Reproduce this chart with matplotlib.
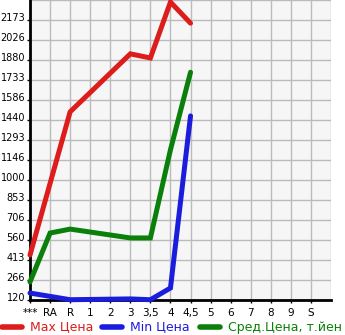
import matplotlib
matplotlib.use("Agg")
import matplotlib.pyplot as plt
import matplotlib.transforms as mtransforms
from matplotlib.lines import Line2D
import numpy as np

categories = ["***", "RA", "R", "1", "2", "3", "3,5", "4", "4,5", "5", "6", "7", "8", "9", "S"]
max_price = [450, None, 1500, None, None, 1925, 1895, 2305, 2150, None, None, None, None, None, None]
min_price = [171, None, 122, None, None, 128, 122, 208, 1470, None, None, None, None, None, None]
avg_price = [252, 611, 640, None, None, 575, 575, 1222, 1790, None, None, None, None, None, None]
ytick_labels = ["120", "266", "413", "560", "706", "853", "1000", "1146", "1293",
                "1440", "1586", "1733", "1880", "2026", "2173"]
legend_labels = ["Max Цена", "Min Цена", "Сред.Цена, т.йен"]

colors = ["#dd1c1c", "#1c1cdd", "#0a800a"]

fig = plt.figure(figsize=(3.45, 3.35), dpi=100)
ax = fig.add_axes([30 / 345, 1 - 300 / 335, 301 / 345, 300 / 335])
ax.set_facecolor("#f6f6f6")

ymin, ymax = 120, 2320
step = (ymax - ymin) / 15
yticks = [ymin + i * step for i in range(len(ytick_labels))]

ax.set_xlim(0, 15)
ax.set_ylim(ymin, ymax)
ax.set_xticks(range(len(categories)))
ax.set_xticklabels(categories)
ax.set_yticks(yticks)
ax.set_yticklabels(ytick_labels)

for xv in range(0, 16):
    ax.axvline(xv, color="#bbbbbb", lw=1.0, zorder=0)
for i in range(0, 16):
    ax.axhline(ymin + i * step, color="#bbbbbb", lw=1.0, zorder=0)

for s in ["top", "right"]:
    ax.spines[s].set_visible(False)
for s in ["left", "bottom"]:
    ax.spines[s].set_linewidth(2)
    ax.spines[s].set_color("black")

ax.tick_params(axis="both", length=2.5, width=1, labelsize=7.5, colors="black")
ax.tick_params(axis="y", labelsize=7, pad=1)
ax.tick_params(axis="x", pad=3)

offset = mtransforms.ScaledTranslation(0, 3 / 100, fig.dpi_scale_trans)
for lbl in ax.get_yticklabels():
    lbl.set_transform(lbl.get_transform() + offset)

for series, c in zip([max_price, min_price, avg_price], colors):
    xs = [i for i, v in enumerate(series) if v is not None]
    ys = [v for v in series if v is not None]
    ax.plot(xs, ys, color=c, lw=3.6, solid_capstyle="round", solid_joinstyle="miter",
            clip_on=False, zorder=3)

# legend
ly = 1 - 327 / 335
starts = [2, 102, 200]
for x0, c, lab in zip(starts, colors, legend_labels):
    fig.add_artist(Line2D([x0 / 345, (x0 + 20) / 345], [ly, ly], color=c, lw=4,
                          solid_capstyle="round", transform=fig.transFigure))
    fig.text((x0 + 28) / 345, ly, lab, color=c, fontsize=9, va="center", ha="left")

fig.savefig("out.png", dpi=100)
